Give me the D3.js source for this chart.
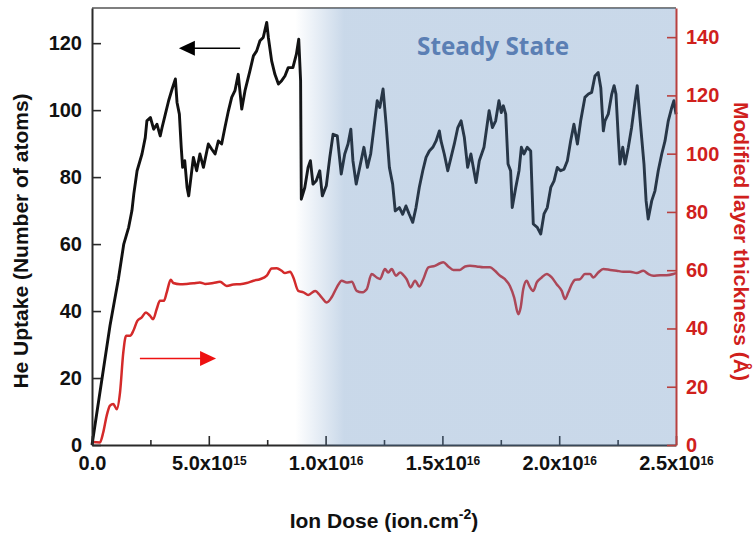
<!DOCTYPE html>
<html>
<head>
<meta charset="utf-8">
<title>He uptake vs ion dose</title>
<style>
    body{ margin:0; background:#fff; }
    text{ font-family:"Liberation Sans", Arial, sans-serif; font-weight:bold; }
</style>
</head>
<body>
<div id="chart"></div>
<script src="https://cdn.jsdelivr.net/npm/d3@7"></script>
<script>

// ion dose in units of 1e15 ion.cm-2
var doseHe = [0,0.77,1.13,1.36,1.57,1.71,1.79,1.93,2.14,2.28,2.35,2.50,2.64,2.78,2.92,3.00,3.14,3.28,3.43,3.57,
    3.64,3.74,3.82,3.88,3.97,4.07,4.14,4.34,4.48,4.62,4.77,4.98,5.12,5.27,5.41,5.55,5.69,5.84,5.98,6.12,
    6.26,6.41,6.55,6.76,6.91,7.05,7.19,7.33,7.48,7.55,7.69,7.83,7.98,8.12,8.26,8.40,8.60,8.75,8.85,8.93,
    8.96,9.11,9.25,9.35,9.46,9.60,9.75,9.86,10.03,10.18,10.32,10.50,10.67,10.82,10.96,11.08,11.17,11.31,11.46,11.64,
    11.79,11.93,12.07,12.21,12.32,12.46,12.59,12.73,12.87,12.98,13.16,13.30,13.44,13.58,13.73,13.87,14.01,14.16,14.30,14.44,
    14.59,14.73,14.87,14.94,15.08,15.23,15.37,15.51,15.66,15.80,15.94,16.08,16.22,16.44,16.58,16.78,17.00,17.14,17.28,17.42,
    17.52,17.61,17.71,17.81,17.92,17.99,18.14,18.28,18.38,18.49,18.63,18.78,18.89,19.06,19.21,19.35,19.49,19.64,19.78,19.92,
    20.06,20.21,20.35,20.49,20.63,20.78,20.92,21.10,21.25,21.39,21.53,21.67,21.78,21.89,21.96,22.10,22.25,22.35,22.43,22.53,
    22.60,22.72,22.82,22.96,23.10,23.25,23.34,23.43,23.53,23.63,23.72,23.81,23.96,24.10,24.24,24.39,24.53,24.67,24.82,24.91,25.00];

var heUptake = [0,35.6,49.6,60,65,70,75,81.9,86.9,91.8,96.8,97.8,94.3,95.8,92.3,94.8,98.8,102.8,106.3,109.3,
    102.3,98.8,88.9,82.9,84.9,76.9,74.4,85.9,81.9,86.9,82.9,89.9,88.4,86.9,90.8,89.9,94.8,99.8,103.8,105.8,
    110.7,100.3,105.8,111.7,116.2,117.7,120.7,121.7,126.2,121.7,114.7,110.7,107.8,108.8,110.2,112.7,112.7,116.7,121.2,108.8,
    73.4,76.9,82.9,84.9,77.9,78.9,81.9,74.4,77.4,85.9,92.8,92.3,80.9,86.9,89.9,94.3,84.9,77.9,82.9,88.9,
    82.9,86.9,94.8,102.8,100.8,106.3,95.8,82.9,77.9,69.9,70.9,68.9,71.4,68.9,66.5,70.9,76.9,81.9,85.9,87.8,
    88.9,90.8,93.8,90.8,86.9,81.9,85.9,89.9,94.8,96.8,91.8,82.9,86.9,78.4,84.9,88.9,99.8,94.8,96.8,102.8,
    99.3,101.3,98.8,83.9,81.9,70.9,76.9,81.9,88.9,86.9,88.9,87.8,66.0,65.0,63.0,69.0,70.9,76.9,78.9,82.9,
    81.9,82.4,84.9,90.8,95.8,89.9,96.8,103.8,104.8,105.3,110.2,111.2,106.7,93.8,96.8,98.8,104.8,107.3,104.8,91.8,
    83.9,88.9,83.9,88.9,94.8,102.8,107.3,99.8,91.8,83.9,72.9,67.5,72.9,75.9,81.9,86.9,90.8,96.8,100.8,102.8,98.8];

var doseLayer = [0,0.34,0.48,0.63,0.77,0.91,1.06,1.20,1.34,1.46,1.63,1.77,1.94,2.13,2.31,2.48,2.62,2.77,2.91,3.08,
    3.20,3.37,3.48,3.77,4.05,4.34,4.62,4.84,5.19,5.48,5.77,6.05,6.34,6.62,6.91,7.19,7.48,7.69,7.91,8.12,
    8.26,8.48,8.62,8.83,9.05,9.26,9.55,9.83,10.05,10.26,10.48,10.69,10.90,11.12,11.33,11.55,11.76,11.97,12.19,12.33,
    12.54,12.68,12.83,13.01,13.19,13.33,13.47,13.64,13.83,14.01,14.18,14.40,14.68,14.90,15.04,15.25,15.47,15.75,15.97,16.18,
    16.47,16.75,17.04,17.25,17.47,17.68,17.89,18.07,18.25,18.35,18.46,18.61,18.72,18.89,19.04,19.25,19.47,19.68,19.89,20.11,
    20.25,20.39,20.54,20.68,20.89,21.10,21.32,21.46,21.67,21.89,22.18,22.46,22.74,23.03,23.32,23.60,23.81,24.03,24.32,24.60,24.89,25.00];

var layerThickness = [1,0.9,4.3,10.1,13.5,14.1,12.3,18.1,31.8,37.5,37.5,39.2,42.6,43.8,45.5,44.4,43.2,46.7,49.5,49.5,
    52.4,56.7,55.6,55.2,55.3,55.5,55.8,55.3,55.6,56.0,54.6,55.1,55.2,55.6,56.4,56.9,58.1,60.6,60.7,59.8,
    59.0,59.5,57.5,52.9,52.4,51.5,52.9,50.7,48.9,50.7,54.1,56.4,55.8,56.0,52.9,52.4,53.5,58.7,57.5,57.0,
    60.4,59.2,60.4,58.1,59.2,58.3,56.9,54.1,56.4,54.4,56.9,61.0,61.5,62.4,62.7,61.3,60.1,60.1,61.3,61.5,
    61.3,61.0,61.0,59.8,58.1,56.9,54.6,50.7,44.9,47.2,53.5,56.4,54.6,52.9,55.8,57.5,58.7,57.5,55.2,52.9,
    50.1,52.4,55.2,56.7,56.9,58.7,58.7,57.5,59.2,60.4,60.1,59.8,59.5,59.5,59.0,59.8,58.7,58.1,58.3,58.3,58.7,59.0];

var heTicks = [0,20,40,60,80,100,120];
var layerTicks = [0,20,40,60,80,100,120,140];
var doseTicks = [0,5,10,15,20,25];
var doseMinorTicks = [2.5,7.5,12.5,17.5,22.5];
var doseTickMantissa = ["0.0","5.0x10","1.0x10","1.5x10","2.0x10","2.5x10"];
var doseTickExponent = ["","15","16","16","16","16"];

var width = 754, height = 533;
var margin = {top:8, right:78, bottom:87, left:92};
var plotBottom = height - margin.bottom - 1;
var plotRight = width - margin.right;

var svg = d3.select("#chart").append("svg")
    .attr("width", width)
    .attr("height", height);

var x = d3.scaleLinear().domain([0,25]).range([margin.left, plotRight]);
var yHe = d3.scaleLinear().domain([0,130.5]).range([plotBottom, margin.top]);
var yLayer = d3.scaleLinear().domain([0,150]).range([plotBottom, margin.top]);

//---------------- lines ----------------
var heLine = d3.line()
    .x(function(d,i){ return x(doseHe[i]); })
    .y(function(d){ return yHe(d); });

var layerLine = d3.line()
    .curve(d3.curveMonotoneX)
    .x(function(d,i){ return x(doseLayer[i]); })
    .y(function(d){ return yLayer(d); });

svg.append("path")
    .datum(layerThickness)
    .attr("d", layerLine)
    .attr("fill", "none")
    .attr("stroke", "#d42a2a")
    .attr("stroke-width", 2.5);

svg.append("path")
    .datum(heUptake)
    .attr("d", heLine)
    .attr("fill", "none")
    .attr("stroke", "#111")
    .attr("stroke-width", 2.9)
    .attr("stroke-linejoin", "round");

//---------------- x axis + frame ----------------
var xAxis = svg.append("g")
    .attr("transform", "translate(0," + plotBottom + ")")
    .call(d3.axisBottom(x).tickValues(doseTicks).tickSize(-9).tickSizeOuter(0).tickPadding(11).tickFormat(""));
xAxis.select(".domain").attr("stroke", "#2a2a2a").attr("stroke-width", 2);
xAxis.selectAll(".tick line").attr("stroke", "#2a2a2a").attr("stroke-width", 1.6);
xAxis.selectAll(".tick text").each(function(d,i){
    var t = d3.select(this).attr("font-size", 20).attr("fill", "#111");
    t.append("tspan").text(doseTickMantissa[i]);
    if (doseTickExponent[i] != "") {
        t.append("tspan").attr("font-size", 12).attr("dy", -5).text(doseTickExponent[i]);
    }
});

var xMinor = svg.append("g")
    .attr("transform", "translate(0," + plotBottom + ")")
    .call(d3.axisBottom(x).tickValues(doseMinorTicks).tickSize(-5).tickSizeOuter(0).tickFormat(""));
xMinor.select(".domain").remove();
xMinor.selectAll(".tick line").attr("stroke", "#2a2a2a").attr("stroke-width", 1.6);

svg.append("line")
    .attr("x1", margin.left).attr("x2", plotRight)
    .attr("y1", margin.top).attr("y2", margin.top)
    .attr("stroke", "#555").attr("stroke-width", 1.5);

//---------------- steady state shading ----------------
var defs = svg.append("defs");
var grad = defs.append("linearGradient")
    .attr("id", "steady")
    .attr("gradientUnits", "userSpaceOnUse")
    .attr("x1", x(8.7)).attr("x2", x(10.8))
    .attr("y1", 0).attr("y2", 0);
grad.append("stop").attr("offset", 0).attr("stop-color", "rgb(87,134,187)").attr("stop-opacity", 0);
grad.append("stop").attr("offset", 1).attr("stop-color", "rgb(87,134,187)").attr("stop-opacity", 0.32);

svg.append("rect")
    .attr("x", x(8.7))
    .attr("y", margin.top)
    .attr("width", x(25) - x(8.7))
    .attr("height", plotBottom - margin.top + 1)
    .attr("fill", "url(#steady)");

svg.append("text")
    .attr("x", 417)
    .attr("y", 55)
    .attr("font-size", 25)
    .attr("textLength", 152)
    .attr("lengthAdjust", "spacingAndGlyphs")
    .style("font-family", "'Open Sans', sans-serif")
    .attr("fill", "#5b7fb4")
    .text("Steady State");

//---------------- y axes ----------------
var leftAxis = svg.append("g")
    .attr("transform", "translate(" + margin.left + ",0)")
    .call(d3.axisLeft(yHe).tickValues(heTicks).tickSize(-9).tickSizeOuter(0).tickPadding(10));
leftAxis.select(".domain").attr("stroke", "#2a2a2a").attr("stroke-width", 2);
leftAxis.selectAll(".tick line").attr("stroke", "#2a2a2a").attr("stroke-width", 1.6);
leftAxis.selectAll(".tick text").attr("font-size", 20).attr("fill", "#111");

var rightAxis = svg.append("g")
    .attr("transform", "translate(" + plotRight + ",0)")
    .call(d3.axisRight(yLayer).tickValues(layerTicks).tickSize(-9).tickSizeOuter(0).tickPadding(10));
rightAxis.select(".domain").attr("stroke", "#b8403f").attr("stroke-width", 2);
rightAxis.selectAll(".tick line").attr("stroke", "#b8403f").attr("stroke-width", 1.6);
rightAxis.selectAll(".tick text").attr("font-size", 20).attr("fill", "#d0201c");

//---------------- titles ----------------
var xTitle = svg.append("text")
    .attr("x", (margin.left + plotRight) / 2)
    .attr("y", 528)
    .attr("text-anchor", "middle")
    .attr("font-size", 21)
    .attr("fill", "#111");
xTitle.append("tspan").text("Ion Dose (ion.cm");
xTitle.append("tspan").attr("font-size", 14).attr("dy", -9).text("-2");
xTitle.append("tspan").attr("dy", 9).text(")");

svg.append("text")
    .attr("transform", "translate(28," + 241 + ") rotate(-90)")
    .attr("text-anchor", "middle")
    .attr("font-size", 21)
    .attr("fill", "#111")
    .text("He Uptake (Number of atoms)");

svg.append("text")
    .attr("transform", "translate(734," + 241.5 + ") rotate(90)")
    .attr("text-anchor", "middle")
    .attr("font-size", 21)
    .attr("fill", "#d0201c")
    .text("Modified layer thickness (Å)");

//---------------- arrows ----------------
function arrow(x1, x2, y, color){
    var dir = x2 > x1 ? 1 : -1;
    svg.append("line")
        .attr("x1", x1).attr("x2", x2 - dir*14)
        .attr("y1", y).attr("y2", y)
        .attr("stroke", color).attr("stroke-width", 1.6);
    svg.append("path")
        .attr("d", "M" + x2 + "," + y + "L" + (x2 - dir*16) + "," + (y - 7.5) + "L" + (x2 - dir*16) + "," + (y + 7.5) + "Z")
        .attr("fill", color);
}
arrow(x(6.34), x(3.72), yHe(118.5), "#000");
arrow(x(2.05), x(5.31), yLayer(29.7), "#ee1111");

</script>
</body>
</html>
